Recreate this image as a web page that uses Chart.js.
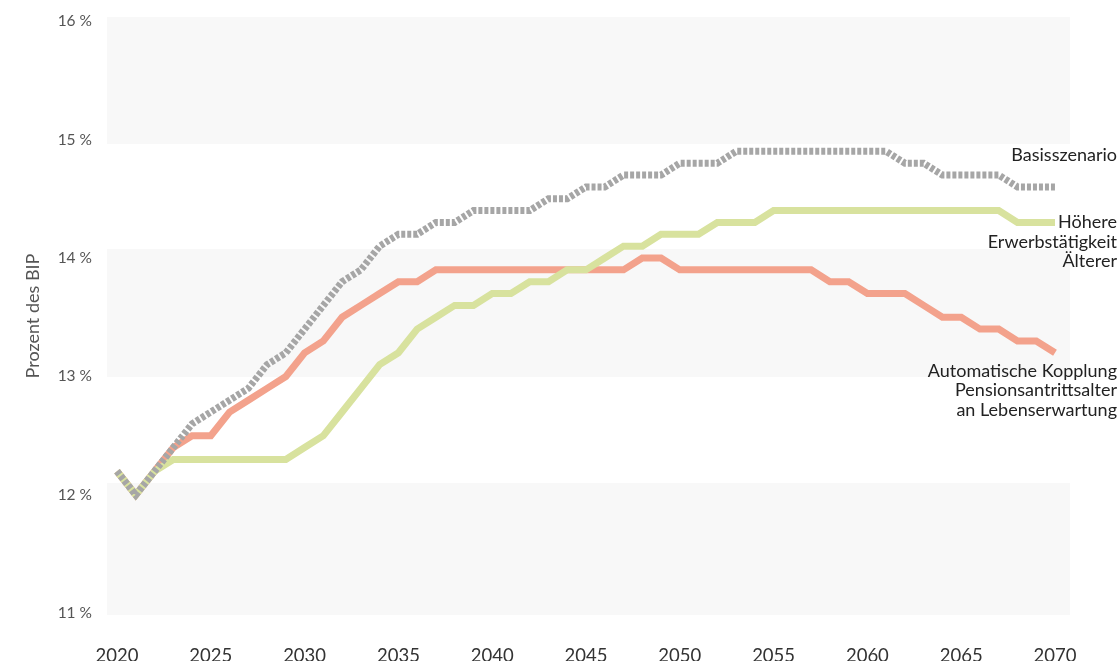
<!DOCTYPE html>
<html lang="de">
<head>
<meta charset="utf-8">
<title>Prozent des BIP</title>
<script src="https://cdn.jsdelivr.net/npm/chart.js@4/dist/chart.umd.min.js"></script>
<style>
    html, body { margin: 0; padding: 0; background: #fff; }
    #wrap { width: 1119px; height: 661px; position: relative; }
</style>
</head>
<body>
<div id="wrap"><canvas id="pensionChart"></canvas></div>
<script>
// ============================================================
// DATA
// ============================================================
const years = [
    2020, 2021, 2022, 2023, 2024, 2025, 2026, 2027, 2028, 2029,
    2030, 2031, 2032, 2033, 2034, 2035, 2036, 2037, 2038, 2039,
    2040, 2041, 2042, 2043, 2044, 2045, 2046, 2047, 2048, 2049,
    2050, 2051, 2052, 2053, 2054, 2055, 2056, 2057, 2058, 2059,
    2060, 2061, 2062, 2063, 2064, 2065, 2066, 2067, 2068, 2069,
    2070
];

// Basisszenario
const basisValues = [
    12.2, 12.0, 12.2, 12.4, 12.6, 12.7, 12.8, 12.9, 13.1, 13.2,
    13.4, 13.6, 13.8, 13.9, 14.1, 14.2, 14.2, 14.3, 14.3, 14.4,
    14.4, 14.4, 14.4, 14.5, 14.5, 14.6, 14.6, 14.7, 14.7, 14.7,
    14.8, 14.8, 14.8, 14.9, 14.9, 14.9, 14.9, 14.9, 14.9, 14.9,
    14.9, 14.9, 14.8, 14.8, 14.7, 14.7, 14.7, 14.7, 14.6, 14.6,
    14.6
];

// Höhere Erwerbstätigkeit Älterer
const olderWorkValues = [
    12.2, 12.0, 12.2, 12.3, 12.3, 12.3, 12.3, 12.3, 12.3, 12.3,
    12.4, 12.5, 12.7, 12.9, 13.1, 13.2, 13.4, 13.5, 13.6, 13.6,
    13.7, 13.7, 13.8, 13.8, 13.9, 13.9, 14.0, 14.1, 14.1, 14.2,
    14.2, 14.2, 14.3, 14.3, 14.3, 14.4, 14.4, 14.4, 14.4, 14.4,
    14.4, 14.4, 14.4, 14.4, 14.4, 14.4, 14.4, 14.4, 14.3, 14.3,
    14.3
];

// Automatische Kopplung Pensionsantrittsalter an Lebenserwartung
const couplingValues = [
    12.2, 12.0, 12.2, 12.4, 12.5, 12.5, 12.7, 12.8, 12.9, 13.0,
    13.2, 13.3, 13.5, 13.6, 13.7, 13.8, 13.8, 13.9, 13.9, 13.9,
    13.9, 13.9, 13.9, 13.9, 13.9, 13.9, 13.9, 13.9, 14.0, 14.0,
    13.9, 13.9, 13.9, 13.9, 13.9, 13.9, 13.9, 13.9, 13.8, 13.8,
    13.7, 13.7, 13.7, 13.6, 13.5, 13.5, 13.4, 13.4, 13.3, 13.3,
    13.2
];

const yTicks  = [11, 12, 13, 14, 15, 16];
const xTicks  = [2020, 2025, 2030, 2035, 2040, 2045, 2050, 2055, 2060, 2065, 2070];

// shaded background bands (value ranges, top -> bottom)
const bandRanges = [
    [16.034, 14.962],
    [14.076, 12.996],
    [12.100, 10.987]
];

const basisLabel    = ['Basisszenario'];
const olderLabel    = ['Höhere', 'Erwerbstätigkeit', 'Älterer'];
const couplingLabel = ['Automatische Kopplung', 'Pensionsantrittsalter', 'an Lebenserwartung'];

(function() {
    'use strict';

    const FONT = "'Lato', 'DejaVu Sans', sans-serif";

    const COLORS = {
        basis:    '#a6a6a6',
        older:    '#d8e29e',
        coupling: '#f3a28c',
        band:     '#f8f8f8',
        text:     '#222222',
        tick:     '#555555'
    };

    function toPoints(values) {
        return years.map((yr, i) => ({ x: yr, y: values[i] }));
    }

    // ============================================================
    // PLUGIN: background bands
    // ============================================================
    const bandsPlugin = {
        id: 'bands',
        beforeDatasetsDraw(chart) {
            const { ctx, chartArea, scales } = chart;
            ctx.save();
            ctx.fillStyle = COLORS.band;
            bandRanges.forEach(([hi, lo]) => {
                const top = scales.y.getPixelForValue(hi);
                const bot = scales.y.getPixelForValue(lo);
                ctx.fillRect(chartArea.left, top, chartArea.right - chartArea.left, bot - top);
            });
            ctx.restore();
        }
    };

    // ============================================================
    // PLUGIN: series labels at the right end
    // ============================================================
    const endLabelsPlugin = {
        id: 'endLabels',
        afterDatasetsDraw(chart) {
            const { ctx, scales } = chart;
            const lastX = 1117;
            const lineH = 19.5;
            const last = years.length - 1;

            ctx.save();
            ctx.font = '18px ' + FONT;
            ctx.fillStyle = COLORS.text;
            ctx.textAlign = 'right';
            ctx.textBaseline = 'middle';

            const put = (lines, value, dy) => {
                const y0 = scales.y.getPixelForValue(value) + dy;
                lines.forEach((txt, i) => ctx.fillText(txt, lastX, y0 + i * lineH));
            };

            put(basisLabel,    basisValues[last],    -32);
            put(olderLabel,    olderWorkValues[last],  0);
            put(couplingLabel, couplingValues[last],   18);

            ctx.restore();
        }
    };

    // ============================================================
    // CHART
    // ============================================================
    function init() {
        const el = document.getElementById('pensionChart');
        if (!el) return;

        const lineBase = {
            borderWidth: 7,
            pointRadius: 0,
            pointHoverRadius: 0,
            tension: 0,
            fill: false,
            borderCapStyle: 'butt',
            borderJoinStyle: 'miter'
        };

        new Chart(el.getContext('2d'), {
            type: 'line',
            data: {
                datasets: [
                    Object.assign({}, lineBase, {
                        label: 'Basisszenario',
                        data: toPoints(basisValues),
                        borderColor: COLORS.basis,
                        borderDash: [4, 2]
                    }),
                    Object.assign({}, lineBase, {
                        label: 'Höhere Erwerbstätigkeit Älterer',
                        data: toPoints(olderWorkValues),
                        borderColor: COLORS.older
                    }),
                    Object.assign({}, lineBase, {
                        label: 'Automatische Kopplung Pensionsantrittsalter an Lebenserwartung',
                        data: toPoints(couplingValues),
                        borderColor: COLORS.coupling
                    })
                ]
            },
            options: {
                responsive: true,
                maintainAspectRatio: false,
                animation: false,
                layout: { padding: { top: 17, right: 49, left: 0, bottom: 0 } },
                plugins: {
                    legend: { display: false },
                    tooltip: { enabled: false }
                },
                scales: {
                    x: {
                        type: 'linear',
                        min: 2019.467,
                        max: 2070.8,
                        border: { display: false },
                        grid: { display: false, drawTicks: false },
                        afterBuildTicks(scale) {
                            scale.ticks = xTicks.map(v => ({ value: v }));
                        },
                        afterFit(scale) {
                            scale.height = 46;
                            scale.paddingLeft = 0;
                            scale.paddingRight = 0;
                        },
                        ticks: {
                            padding: 30,
                            color: '#333',
                            font: { family: FONT, size: 18.5 },
                            maxRotation: 0,
                            autoSkip: false,
                            callback: v => String(v)
                        }
                    },
                    y: {
                        min: 10.987,
                        max: 16.034,
                        border: { display: false },
                        grid: { display: false, drawTicks: false },
                        afterBuildTicks(scale) {
                            scale.ticks = yTicks.map(v => ({ value: v }));
                        },
                        afterFit(scale) {
                            scale.width = 107;
                            scale.paddingTop = 0;
                            scale.paddingBottom = 0;
                        },
                        ticks: {
                            padding: 15,
                            color: COLORS.tick,
                            font: { family: FONT, size: 15.5 },
                            callback: v => v + ' %'
                        },
                        title: {
                            display: true,
                            text: 'Prozent des BIP',
                            color: COLORS.tick,
                            font: { family: FONT, size: 18 },
                            padding: { top: 22, bottom: 0 }
                        }
                    }
                }
            },
            plugins: [bandsPlugin, endLabelsPlugin]
        });
    }

    document.readyState === 'loading'
        ? document.addEventListener('DOMContentLoaded', init)
        : init();
})();
</script>
</body>
</html>
